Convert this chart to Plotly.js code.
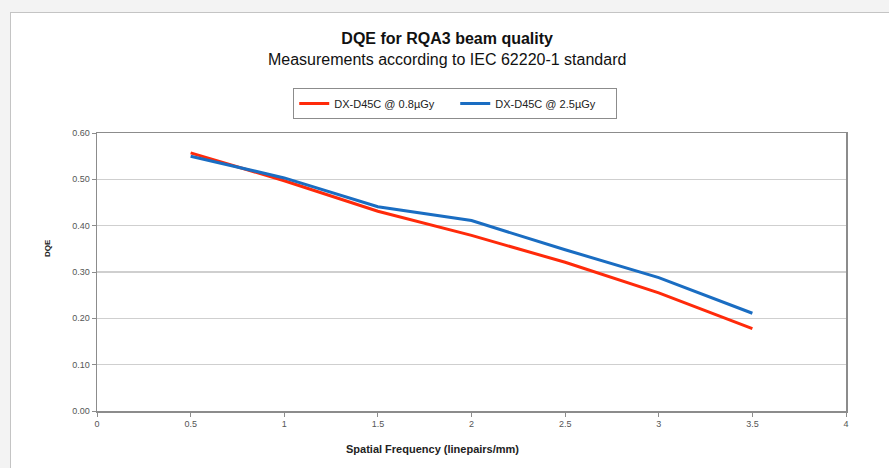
<!DOCTYPE html>
<html>
<head>
<meta charset="utf-8">
<script src="https://cdn.plot.ly/plotly-3.0.1.min.js"></script>
<style>
  html, body { margin: 0; padding: 0; background: #f3f3f3; width: 889px; height: 468px; overflow: hidden; }
  #panel { position: absolute; left: 10px; top: 12px; width: 900px; height: 500px; background: #ffffff; border-left: 1px solid #c4c4c4; border-top: 1px solid #c4c4c4; }
  #chart { position: absolute; left: 0; top: 0; width: 889px; height: 468px; }
</style>
</head>
<body>
<div id="panel"></div>
<div id="chart"></div>
<script>
const frequency = [0.5, 1, 1.5, 2, 2.5, 3, 3.5];
const dqeLow = [0.557, 0.497, 0.431, 0.379, 0.321, 0.255, 0.178];
const dqeHigh = [0.550, 0.503, 0.441, 0.411, 0.348, 0.288, 0.211];
const seriesNames = ["DX-D45C @ 0.8µGy", "DX-D45C @ 2.5µGy"];
const yTicks = [0, 0.1, 0.2, 0.3, 0.4, 0.5, 0.6];
const xTicks = [0, 0.5, 1, 1.5, 2, 2.5, 3, 3.5, 4];

const font = "Liberation Sans, Arial, sans-serif";

const traces = [
  { x: frequency, y: dqeLow, name: seriesNames[0], type: "scatter", mode: "lines",
    line: { color: "#ff2a0a", width: 3 } },
  { x: frequency, y: dqeHigh, name: seriesNames[1], type: "scatter", mode: "lines",
    line: { color: "#1a6dc2", width: 3 } }
];

const axisCommon = {
  showline: true, linecolor: "#8c8c8c", linewidth: 1.5, mirror: true,
  ticks: "outside", ticklen: 4, tickcolor: "#8c8c8c", tickwidth: 1,
  tickfont: { family: font, size: 9, color: "#555" },
  zeroline: false
};

const layout = {
  width: 889, height: 468,
  paper_bgcolor: "rgba(0,0,0,0)",
  plot_bgcolor: "#ffffff",
  margin: { l: 97, r: 43, t: 133, b: 57 },
  font: { family: font },
  title: {
    text: "<b>DQE for RQA3 beam quality</b><br>Measurements according to IEC 62220-1 standard",
    font: { family: font, size: 16, color: "#111" },
    x: 0.503, xanchor: "center", xref: "container",
    y: 0.905, yanchor: "middle", yref: "container"
  },
  xaxis: Object.assign({}, axisCommon, {
    range: [0, 4], tickvals: xTicks, ticktext: xTicks.map(String),
    showgrid: false
  }),
  yaxis: Object.assign({}, axisCommon, {
    range: [0, 0.6], tickvals: yTicks, ticktext: yTicks.map(v => v.toFixed(2)),
    showgrid: true, gridcolor: "#cfcfcf", gridwidth: 1.5
  }),
  showlegend: true,
  legend: {
    orientation: "h",
    x: 0.262, xanchor: "left", y: 1.162, yanchor: "top",
    bordercolor: "#8c8c8c", borderwidth: 1, bgcolor: "#ffffff",
    font: { family: font, size: 11, color: "#222" },
    itemwidth: 30, entrywidth: 116
  },
  annotations: [
    { text: "<b>Spatial Frequency (linepairs/mm)</b>", xref: "paper", yref: "paper",
      x: (432 - 97) / 749, y: -(449 - 411) / 278, xanchor: "center", yanchor: "middle",
      showarrow: false, font: { family: font, size: 11, color: "#222" } },
    { text: "<b>DQE</b>", xref: "paper", yref: "paper", textangle: -90,
      x: -(97 - 47) / 749, y: (411 - 248) / 278, xanchor: "center", yanchor: "middle",
      showarrow: false, font: { family: font, size: 8, color: "#222" } }
  ]
};

Plotly.newPlot("chart", traces, layout, { displayModeBar: false, staticPlot: true });
</script>
</body>
</html>
